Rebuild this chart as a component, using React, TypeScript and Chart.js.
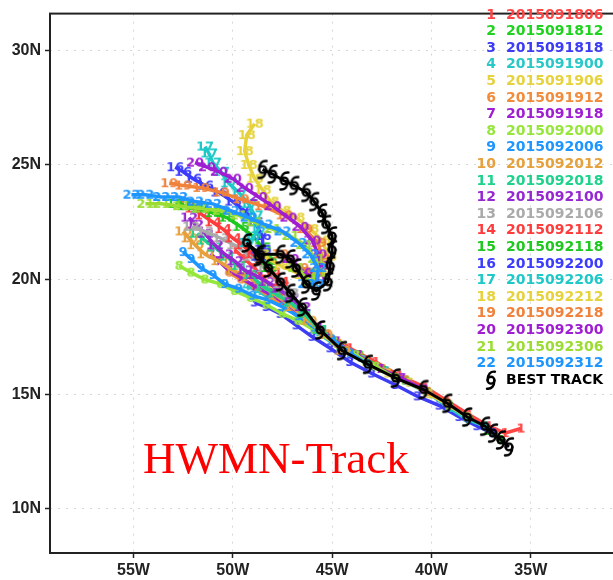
import React, { useEffect, useRef } from "react";
import { Chart, registerables } from "chart.js";

Chart.register(...registerables);

// ---------- data ----------
const initTimes = [
  "2015091806", "2015091812", "2015091818", "2015091900", "2015091906", "2015091912",
  "2015091918", "2015092000", "2015092006", "2015092012", "2015092018", "2015092100",
  "2015092106", "2015092112", "2015092118", "2015092200", "2015092206", "2015092212",
  "2015092218", "2015092300", "2015092306", "2015092312",
];

const trackColors = [
  "#ff4646", "#1ed21e", "#3c3cf5", "#28c8c8", "#e6d23c", "#f08c3c",
  "#a01ed2", "#96e63c", "#1e96ff", "#e6a03c", "#1ed28c", "#9628d2",
  "#aaaaaa", "#ff3c3c", "#1ec81e", "#3c3cff", "#1ec8c8", "#e6d23c",
  "#f0823c", "#a01ed2", "#9bdc32", "#1e96ff",
];

const lonTicks = [-55, -50, -45, -40, -35, -30];
const latTicks = [10, 15, 20, 25, 30];
const lonRange = [-59.2, -29.0];
const latRange = [8.07, 31.6];

const bestTrack: [number, number][] = [
  [-36.1, 12.7], [-36.5, 13.0], [-36.9, 13.3], [-37.3, 13.6], [-38.2, 14.0], [-39.2, 14.6],
  [-40.4, 15.2], [-41.8, 15.7], [-43.2, 16.3], [-44.5, 16.9], [-45.6, 17.8], [-46.5, 18.8],
  [-47.1, 19.4], [-47.6, 19.9], [-48.2, 20.5], [-48.7, 21.0], [-49.3, 21.6], [-48.6, 21.1],
  [-47.6, 21.1], [-47.1, 20.9], [-46.8, 20.5], [-46.3, 19.8], [-45.8, 19.5], [-45.2, 19.9],
  [-45.1, 20.6], [-45.0, 21.3], [-45.0, 21.9], [-45.3, 22.4], [-45.5, 22.9], [-45.9, 23.4],
  [-46.3, 23.8], [-46.9, 24.1], [-47.4, 24.3], [-48.0, 24.6], [-48.5, 24.8],
];

const track01: [number, number][] = [[-35.5, 13.5], [-36.3, 13.3], [-37.1, 13.6], [-38.1, 14.1], [-39.2, 14.7], [-40.3, 15.3], [-41.6, 15.8], [-42.8, 16.4], [-44.1, 17.0], [-45.2, 17.6], [-46.2, 18.3], [-47.0, 19.0], [-47.7, 19.5], [-48.4, 20.0], [-48.9, 20.5], [-49.4, 20.9], [-49.9, 21.3]];
const track02: [number, number][] = [[-36.5, 13.0], [-37.2, 13.4], [-38.1, 13.9], [-39.1, 14.5], [-40.2, 15.1], [-41.3, 15.6], [-42.5, 16.1], [-43.6, 16.7], [-44.7, 17.2], [-45.7, 17.8], [-46.6, 18.4], [-47.4, 19.0], [-48.1, 19.4], [-48.7, 19.7]];
const track03: [number, number][] = [[-36.9, 13.3], [-37.7, 13.6], [-38.6, 14.0], [-39.6, 14.5], [-40.7, 14.9], [-41.8, 15.4], [-43.0, 15.9], [-44.1, 16.4], [-45.1, 17.0], [-46.0, 17.5], [-46.8, 18.0], [-47.6, 18.5], [-48.3, 18.8], [-48.9, 19.0]];
const track04: [number, number][] = [[-37.3, 13.6], [-38.2, 13.9], [-39.1, 14.4], [-40.1, 15.0], [-41.2, 15.5], [-42.3, 16.0], [-43.5, 16.5], [-44.6, 17.0], [-45.6, 17.6], [-46.5, 18.2], [-47.3, 18.8], [-48.0, 19.1], [-48.7, 19.5], [-49.3, 19.7]];
const track05: [number, number][] = [[-38.2, 14.0], [-39.1, 14.5], [-40.1, 15.0], [-41.1, 15.5], [-42.2, 15.9], [-43.3, 16.4], [-44.5, 17.0], [-45.5, 17.6], [-46.4, 18.2], [-47.1, 18.8], [-47.8, 19.3], [-48.5, 19.7], [-49.0, 20.0]];
const track06: [number, number][] = [[-39.2, 14.6], [-40.2, 15.1], [-41.3, 15.6], [-42.5, 16.1], [-43.6, 16.6], [-44.7, 17.2], [-45.7, 17.8], [-46.6, 18.4], [-47.4, 18.9], [-48.2, 19.3], [-48.9, 19.7], [-49.6, 20.0], [-50.2, 20.3]];
const track07: [number, number][] = [[-40.4, 15.2], [-41.5, 15.7], [-42.6, 16.1], [-43.7, 16.7], [-44.8, 17.3], [-45.7, 17.9], [-46.6, 18.5], [-47.4, 19.0], [-48.2, 19.4], [-48.9, 19.7], [-49.6, 20.1], [-50.2, 20.4], [-50.7, 20.8], [-51.1, 21.1]];
const track08: [number, number][] = [[-41.8, 15.7], [-42.8, 16.2], [-43.8, 16.7], [-44.9, 17.3], [-45.9, 17.8], [-46.7, 18.2], [-47.5, 18.5], [-48.3, 18.9], [-49.1, 19.2], [-49.9, 19.5], [-50.6, 19.8], [-51.4, 20.0], [-52.1, 20.3], [-52.7, 20.6]];
const track09: [number, number][] = [[-43.2, 16.3], [-44.1, 16.8], [-45.0, 17.4], [-45.9, 17.9], [-46.7, 18.4], [-47.5, 18.8], [-48.2, 19.1], [-49.0, 19.3], [-49.7, 19.6], [-50.4, 19.8], [-51.0, 20.2], [-51.6, 20.5], [-52.1, 20.9], [-52.5, 21.2]];
const track10: [number, number][] = [[-44.5, 16.9], [-45.4, 17.6], [-46.2, 18.2], [-47.0, 18.8], [-47.8, 19.3], [-48.5, 19.7], [-49.2, 20.1], [-50.0, 20.4], [-50.7, 20.8], [-51.4, 21.1], [-51.9, 21.5], [-52.2, 21.8], [-52.5, 22.1]];
const track11: [number, number][] = [[-45.6, 17.8], [-46.4, 18.5], [-47.1, 19.0], [-47.9, 19.4], [-48.5, 19.7], [-49.1, 20.2], [-49.7, 20.6], [-50.3, 21.0], [-50.9, 21.4], [-51.4, 21.7], [-51.8, 22.0]];
const track12: [number, number][] = [[-46.5, 18.8], [-47.1, 19.2], [-47.7, 19.6], [-48.3, 19.9], [-48.9, 20.2], [-49.4, 20.4], [-49.9, 20.8], [-50.4, 21.1], [-50.9, 21.5], [-51.4, 22.0], [-51.9, 22.4], [-52.2, 22.7]];
const track13: [number, number][] = [[-47.1, 19.4], [-47.6, 19.8], [-48.4, 20.5], [-49.1, 21.0], [-49.9, 21.5], [-50.6, 21.8], [-51.4, 22.1], [-52.1, 22.3]];
const track14: [number, number][] = [[-47.6, 19.9], [-48.0, 20.3], [-48.5, 20.8], [-49.0, 21.1], [-49.5, 21.5], [-50.0, 21.8], [-50.5, 22.2], [-51.0, 22.5], [-51.5, 22.8], [-52.0, 23.1], [-52.3, 23.3]];
const track15: [number, number][] = [[-48.2, 20.5], [-48.2, 20.9], [-48.5, 21.4], [-49.0, 21.9], [-49.6, 22.3], [-50.3, 22.7], [-51.0, 22.9], [-51.7, 23.1], [-52.4, 23.2], [-52.9, 23.3]];
const track16: [number, number][] = [[-48.7, 21.0], [-48.5, 21.3], [-48.5, 21.9], [-48.9, 22.5], [-49.4, 23.0], [-50.0, 23.4], [-50.7, 23.8], [-51.4, 24.1], [-52.0, 24.4], [-52.5, 24.7], [-52.9, 24.9]];
const track17: [number, number][] = [[-49.3, 21.6], [-49.0, 21.8], [-48.7, 22.2], [-48.9, 22.8], [-49.2, 23.3], [-49.7, 23.8], [-50.2, 24.2], [-50.6, 24.7], [-51.0, 25.1], [-51.2, 25.5], [-51.4, 25.8]];
const track18: [number, number][] = [[-48.6, 21.1], [-47.6, 20.6], [-46.5, 20.2], [-45.5, 20.3], [-45.2, 21.0], [-45.5, 21.7], [-46.1, 22.2], [-46.8, 22.7], [-47.5, 23.0], [-48.1, 23.4], [-48.5, 23.9], [-48.9, 24.4], [-49.2, 25.0], [-49.4, 25.6], [-49.3, 26.3], [-48.9, 26.8]];
const track19: [number, number][] = [[-47.6, 21.1], [-46.6, 20.5], [-45.9, 20.3], [-45.5, 20.9], [-45.7, 21.6], [-46.4, 22.2], [-47.4, 22.8], [-48.5, 23.2], [-49.6, 23.5], [-50.6, 23.8], [-51.6, 24.0], [-52.5, 24.1], [-53.2, 24.2]];
const track20: [number, number][] = [[-47.1, 20.9], [-46.4, 20.3], [-45.8, 20.0], [-45.6, 20.6], [-45.7, 21.1], [-46.0, 21.7], [-46.6, 22.3], [-47.2, 22.7], [-48.0, 23.2], [-48.7, 23.6], [-49.4, 24.0], [-50.0, 24.4], [-50.7, 24.7], [-51.3, 24.9], [-51.9, 25.1]];
const track21: [number, number][] = [[-46.8, 20.5], [-46.1, 19.9], [-45.7, 20.3], [-45.8, 20.9], [-46.4, 21.5], [-47.1, 21.9], [-48.0, 22.2], [-48.9, 22.5], [-49.7, 22.8], [-50.6, 23.0], [-51.6, 23.1], [-52.6, 23.2], [-53.6, 23.3], [-54.4, 23.3]];
const track22: [number, number][] = [[-46.3, 19.8], [-45.8, 19.8], [-45.7, 20.5], [-46.1, 21.1], [-46.7, 21.6], [-47.5, 22.1], [-48.4, 22.4], [-49.2, 22.7], [-50.1, 23.0], [-51.0, 23.3], [-51.9, 23.4], [-52.7, 23.6], [-53.6, 23.6], [-54.4, 23.7], [-55.1, 23.7]];

const forecastTracks = [
  track01, track02, track03, track04, track05, track06, track07, track08, track09, track10, track11,
  track12, track13, track14, track15, track16, track17, track18, track19, track20, track21, track22,
];

const titleText = "HWMN-Track";
const bestTrackLabel = "BEST TRACK";

// ---------- markers ----------
function numberMarker(label: string, color: string): HTMLCanvasElement {
  const c = document.createElement("canvas");
  c.width = 26;
  c.height = 18;
  const ctx = c.getContext("2d")!;
  ctx.font = "bold 13px 'DejaVu Sans'";
  ctx.fillStyle = color;
  ctx.textAlign = "center";
  ctx.textBaseline = "middle";
  ctx.fillText(label, 13, 9.5);
  return c;
}

function drawHurricane(ctx: CanvasRenderingContext2D, cx: number, cy: number, s: number) {
  ctx.save();
  ctx.strokeStyle = "#000";
  ctx.lineWidth = 2.4 * s;
  ctx.lineCap = "round";
  const r = 3.4 * s;
  ctx.beginPath();
  ctx.arc(cx, cy, r, 0, Math.PI * 2);
  ctx.stroke();
  ctx.beginPath();
  ctx.moveTo(cx - r, cy);
  ctx.bezierCurveTo(cx - r, cy - 6 * s, cx - 0.5 * s, cy - 9 * s, cx + 4 * s, cy - 8.5 * s);
  ctx.stroke();
  ctx.beginPath();
  ctx.moveTo(cx + r, cy);
  ctx.bezierCurveTo(cx + r, cy + 6 * s, cx + 0.5 * s, cy + 9 * s, cx - 4 * s, cy + 8.5 * s);
  ctx.stroke();
  ctx.restore();
}

function hurricaneMarker(): HTMLCanvasElement {
  const c = document.createElement("canvas");
  c.width = 18;
  c.height = 24;
  const ctx = c.getContext("2d")!;
  drawHurricane(ctx, 9, 12, 1);
  return c;
}

// ---------- plugins ----------
const framePlugin = {
  id: "frame",
  beforeDatasetsDraw(chart: any) {
    const { ctx, chartArea } = chart;
    ctx.save();
    ctx.strokeStyle = "#222";
    ctx.lineWidth = 2;
    ctx.strokeRect(chartArea.left, chartArea.top, chartArea.right - chartArea.left, chartArea.bottom - chartArea.top);
    ctx.restore();
  },
};

const annotationPlugin = {
  id: "annotations",
  afterDraw(chart: any) {
    const { ctx } = chart;
    ctx.save();
    ctx.font = "45px 'Liberation Serif'";
    ctx.fillStyle = "#ff0000";
    ctx.textAlign = "left";
    ctx.textBaseline = "alphabetic";
    ctx.fillText(titleText, 143, 473);

    ctx.font = "bold 14px 'DejaVu Sans'";
    ctx.textBaseline = "middle";
    const step = 16.6;
    initTimes.forEach((t, i) => {
      const y = 15 + i * step;
      ctx.fillStyle = trackColors[i];
      ctx.textAlign = "right";
      ctx.fillText(String(i + 1), 496, y);
      ctx.textAlign = "left";
      ctx.fillText(t, 506, y);
    });
    const yb = 15 + initTimes.length * step;
    drawHurricane(ctx, 491, yb, 1);
    ctx.fillStyle = "#000";
    ctx.textAlign = "left";
    ctx.fillText(bestTrackLabel, 506, yb);
    ctx.restore();
  },
};

export default function App() {
  const canvasRef = useRef<HTMLCanvasElement | null>(null);

  useEffect(() => {
    const canvas = canvasRef.current;
    if (!canvas) return;

    const forecastSets = forecastTracks.map((tr, i) => ({
      label: String(i + 1),
      data: tr.map(([x, y]) => ({ x, y })),
      showLine: true,
      borderColor: trackColors[i],
      borderWidth: 3.5,
      pointStyle: numberMarker(String(i + 1), trackColors[i]),
      pointRadius: 5,
      tension: 0,
    }));

    const datasets: any[] = [
      {
        label: bestTrackLabel,
        data: bestTrack.map(([x, y]) => ({ x, y })),
        showLine: true,
        borderColor: "#000",
        borderWidth: 3,
        pointStyle: hurricaneMarker(),
        pointRadius: 5,
        tension: 0,
      },
      ...forecastSets.slice().reverse(),
    ];

    const tickFont = { family: "'Liberation Sans', Arial, sans-serif", weight: "bold" as const, size: 16 };

    const chart = new Chart(canvas, {
      type: "scatter",
      data: { datasets },
      options: {
        animation: false,
        responsive: false,
        devicePixelRatio: 1,
        events: [],
        layout: { padding: { left: 0, top: 6, right: 10, bottom: 0 } },
        plugins: { legend: { display: false }, tooltip: { enabled: false } },
        scales: {
          x: {
            type: "linear",
            min: lonRange[0],
            max: lonRange[1],
            afterFit: (s: any) => {
              s.height = 27;
            },
            afterBuildTicks: (s: any) => {
              s.ticks = lonTicks.map((v) => ({ value: v }));
            },
            ticks: {
              callback: (v: any) => Math.abs(Number(v)) + "W",
              font: tickFont,
              color: "#222",
              padding: 3,
              maxRotation: 0,
              autoSkip: false,
            },
            grid: { color: "#d6d6d6", lineWidth: 1, tickLength: 5, tickColor: "#222", tickWidth: 1.5 },
            border: { display: false, dash: [2, 6] },
          },
          y: {
            type: "linear",
            min: latRange[0],
            max: latRange[1],
            afterFit: (s: any) => {
              s.width = 50;
            },
            afterBuildTicks: (s: any) => {
              s.ticks = latTicks.map((v) => ({ value: v }));
            },
            ticks: {
              callback: (v: any) => v + "N",
              font: tickFont,
              color: "#222",
              padding: 4,
              autoSkip: false,
            },
            grid: { color: "#d6d6d6", lineWidth: 1, tickLength: 5, tickColor: "#222", tickWidth: 1.5 },
            border: { display: false, dash: [2, 6] },
          },
        },
      } as any,
      plugins: [framePlugin, annotationPlugin],
    });

    return () => chart.destroy();
  }, []);

  return (
    <div
      style={{
        position: "absolute",
        left: 0,
        top: 0,
        width: 613,
        height: 580,
        overflow: "hidden",
        background: "#fff",
      }}
    >
      <canvas ref={canvasRef} width={660} height={580} style={{ display: "block" }} />
    </div>
  );
}
